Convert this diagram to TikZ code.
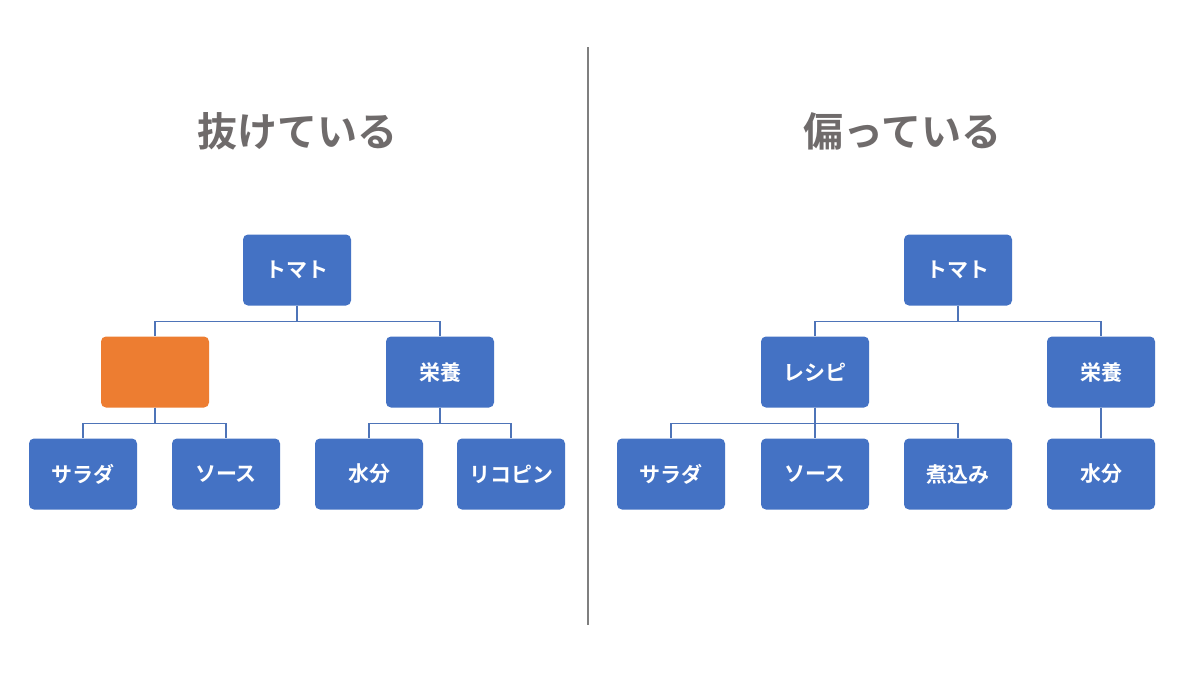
\documentclass[tikz,border=0pt]{standalone}
\usepackage{fontspec}
\newfontfamily\jp{Noto Sans CJK JP}[BoldFont={* Bold}]
\definecolor{boxblue}{HTML}{4472C4}
\definecolor{boxorange}{HTML}{ED7D31}
\definecolor{linkblue}{HTML}{4E74B8}
\definecolor{titlegrey}{HTML}{6F6B6B}
\definecolor{divgrey}{HTML}{7F7F7F}
\begin{document}
\begin{tikzpicture}[x=1pt,y=-1pt,
  box/.style={fill=boxblue,rounded corners=5pt,minimum width=108pt,minimum height=71pt,
    inner sep=0pt,text=white,font=\jp\bfseries\fontsize{21}{25}\selectfont},
  obox/.style={box,fill=boxorange},
  link/.style={draw=linkblue,line width=1.4pt},
  ttl/.style={text=titlegrey,font=\jp\bfseries\fontsize{40}{46}\selectfont}]
\useasboundingbox (0,0) rectangle (1200,675);
\fill[white] (0,0) rectangle (1200,675);
% divider
\coordinate (d1) at (588,47);
\coordinate (d2) at (588,625);
\draw[divgrey,line width=1.3pt] (d1) -- (d2);
% titles
\node[ttl] (t1) at (297,131) {抜けている};
\node[ttl] (t2) at (902,131) {偏っている};
% left tree
\node[box] (lroot) at (297,270) {トマト};
\node[obox] (lmiss) at (155,372) {};
\node[box] (lnut) at (440,372) {栄養};
\node[box] (lsal) at (83,474) {サラダ};
\node[box] (lsau) at (226,474) {ソース};
\node[box] (lwat) at (369,474) {水分};
\node[box] (llyc) at (511,474) {リコピン};
\draw[link] (lroot.south) -- ++(0,16) -| (lmiss.north);
\draw[link] (lroot.south) -- ++(0,16) -| (lnut.north);
\draw[link] (lmiss.south) -- ++(0,16) -| (lsal.north);
\draw[link] (lmiss.south) -- ++(0,16) -| (lsau.north);
\draw[link] (lnut.south) -- ++(0,16) -| (lwat.north);
\draw[link] (lnut.south) -- ++(0,16) -| (llyc.north);
% right tree
\node[box] (rroot) at (958,270) {トマト};
\node[box] (rrec) at (815,372) {レシピ};
\node[box] (rnut) at (1101,372) {栄養};
\node[box] (rsal) at (671,474) {サラダ};
\node[box] (rsau) at (815,474) {ソース};
\node[box] (rsim) at (958,474) {煮込み};
\node[box] (rwat) at (1101,474) {水分};
\draw[link] (rroot.south) -- ++(0,16) -| (rrec.north);
\draw[link] (rroot.south) -- ++(0,16) -| (rnut.north);
\draw[link] (rrec.south) -- ++(0,16) -| (rsal.north);
\draw[link] (rrec.south) -- (rsau.north);
\draw[link] (rrec.south) -- ++(0,16) -| (rsim.north);
\draw[link] (rnut.south) -- (rwat.north);
\end{tikzpicture}
\end{document}
